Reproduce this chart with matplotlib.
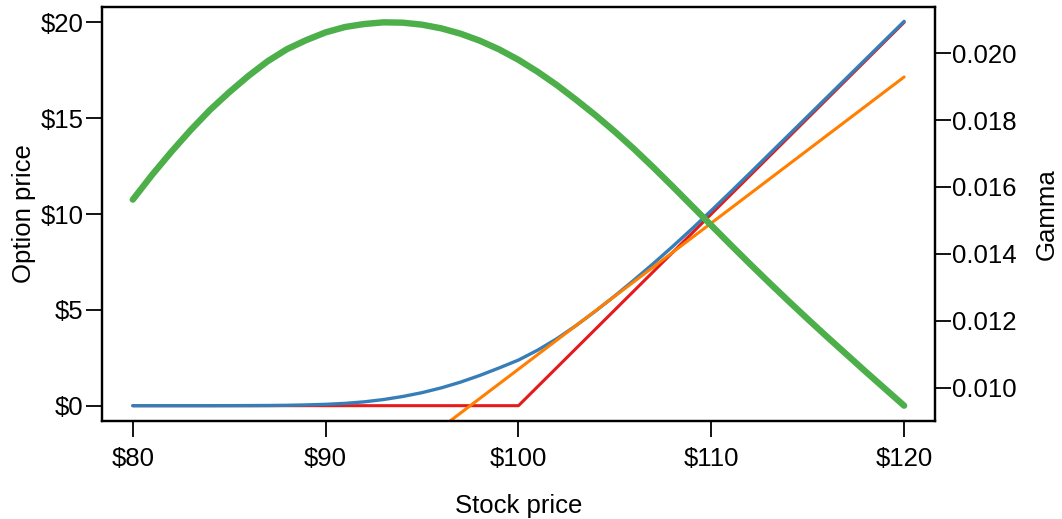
import matplotlib
matplotlib.use("Agg")
import matplotlib.pyplot as plt
import numpy as np

plt.rcParams['font.family'] = ['Liberation Sans', 'DejaVu Sans']

# stock prices on a $1 grid
stock = list(range(80, 121))

# call option value (blue)
call_value = [0.0, 0.0, 0.0, 0.0, 0.0, 0.002, 0.005, 0.01, 0.02, 0.04,
              0.07, 0.12, 0.20, 0.32, 0.48, 0.68, 0.93, 1.23, 1.58, 1.97,
              2.38, 2.90, 3.50, 4.19, 4.94, 5.73, 6.56, 7.42, 8.31, 9.23,
              10.18, 11.15, 12.13, 13.12, 14.11, 15.10, 16.09, 17.08, 18.07, 19.06,
              20.05]

# payoff at expiry (red), strike $100
payoff_stock = [80, 100, 120]
payoff_value = [0, 0, 20]

# tangent line (orange)
tangent_stock = [80, 120]
tangent_value = [-13.34, 17.15]

# gamma (green, right axis)
gamma = [0.01562, 0.01636, 0.01705, 0.01770, 0.01830, 0.01883, 0.01932, 0.01976, 0.02012, 0.02039,
         0.02062, 0.02078, 0.02087, 0.02092, 0.02091, 0.02085, 0.02074, 0.02058, 0.02037, 0.02011,
         0.01980, 0.01944, 0.01904, 0.01860, 0.01814, 0.01765, 0.01713, 0.01658, 0.01601, 0.01543,
         0.01485, 0.01427, 0.01370, 0.01314, 0.01259, 0.01205, 0.01152, 0.01100, 0.01048, 0.00997,
         0.00946]

price_ticks = [0, 5, 10, 15, 20]
stock_ticks = [80, 90, 100, 110, 120]
gamma_ticks = [0.010, 0.012, 0.014, 0.016, 0.018, 0.020]

BLUE = '#377EB8'
RED = '#E41A1C'
ORANGE = '#FF7F00'
GREEN = '#4DAF4A'
FS = 18.5


def padded(lo, hi, frac=0.04):
    d = (hi - lo) * frac
    return lo - d, hi + d


fig = plt.figure(figsize=(10.62, 5.19), dpi=100)
ax = fig.add_axes([0.0960, 0.1888, 0.7844, 0.7977])

ax.plot(payoff_stock, payoff_value, color=RED, lw=2.2, solid_capstyle='round')
ax.plot(stock, call_value, color=BLUE, lw=2.4, solid_capstyle='round')
ax.plot(tangent_stock, tangent_value, color=ORANGE, lw=2.2, solid_capstyle='round')

ax.set_xlim(*padded(80, 120))
ax.set_ylim(*padded(0, 20))
ax.set_xticks(stock_ticks)
ax.set_xticklabels([f'${v}' for v in stock_ticks])
ax.set_yticks(price_ticks)
ax.set_yticklabels([f'${v}' for v in price_ticks])
ax.tick_params(axis='both', labelsize=FS, length=11.5, width=1.3, direction='out')
ax.tick_params(axis='x', pad=7)
ax.tick_params(axis='y', pad=2)
ax.set_xlabel('Stock price', fontsize=FS, labelpad=17)
ax.set_ylabel('Option price', fontsize=FS, labelpad=3)

ax2 = ax.twinx()
ax2.plot(stock, gamma, color=GREEN, lw=4.6, solid_capstyle='round')
ax2.set_ylim(*padded(min(gamma), max(gamma)))
ax2.set_yticks(gamma_ticks)
ax2.set_yticklabels([f'{v:.3f}' for v in gamma_ticks])
ax2.tick_params(axis='y', labelsize=FS, length=11.5, width=1.3, direction='out', pad=1)
ax2.set_ylabel('Gamma', fontsize=FS, rotation=90, labelpad=13)

for a in (ax, ax2):
    for s in a.spines.values():
        s.set_linewidth(1.6)
        s.set_color('black')

fig.savefig('out.png', dpi=100)
